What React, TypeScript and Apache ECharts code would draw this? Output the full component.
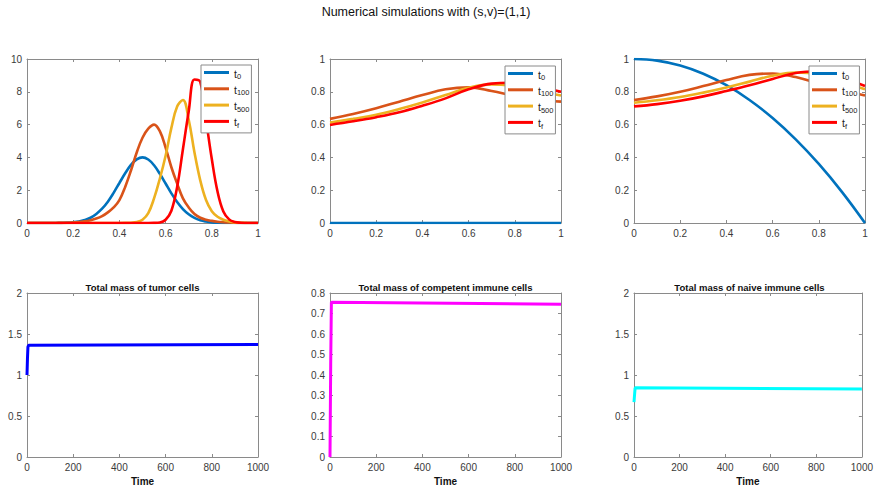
import React, { useEffect, useRef } from "react";
import * as echarts from "echarts";

// ---------- data ----------
const X1 = [0, 0.025, 0.05, 0.075, 0.1, 0.125, 0.15, 0.175, 0.2, 0.225, 0.25, 0.275, 0.3, 0.325, 0.35, 0.375, 0.4, 0.425, 0.45, 0.475, 0.5, 0.525, 0.55, 0.575, 0.6, 0.625, 0.65, 0.675, 0.7, 0.725, 0.75, 0.775, 0.8, 0.825, 0.85, 0.875, 0.9, 0.925, 0.95, 0.975, 1];

const P1_T0 = [0, 0, 0, 0, 0, 0.004, 0.01, 0.02, 0.045, 0.09, 0.18, 0.32, 0.55, 0.87, 1.3, 1.84, 2.44, 3.03, 3.54, 3.88, 4.0, 3.87, 3.52, 3.0, 2.41, 1.81, 1.28, 0.85, 0.53, 0.31, 0.17, 0.09, 0.04, 0.02, 0.008, 0.003, 0.001, 0, 0, 0, 0];
const P1_T100 = [0, 0, 0, 0, 0, 0.002, 0.008, 0.015, 0.03, 0.06, 0.1, 0.17, 0.27, 0.42, 0.65, 0.95, 1.4, 2.2, 3.2, 4.3, 5.2, 5.75, 6.0, 5.6, 4.6, 3.4, 2.4, 1.5, 0.95, 0.55, 0.32, 0.2, 0.13, 0.08, 0.05, 0.03, 0.015, 0.005, 0, 0, 0];
const P1_T500 = [0, 0, 0, 0, 0, 0, 0, 0, 0, 0, 0, 0, 0, 0, 0, 0, 0, 0.005, 0.02, 0.06, 0.2, 0.6, 1.5, 2.7, 4.1, 5.8, 7.1, 7.5, 6.3, 4.3, 2.6, 1.4, 0.72, 0.38, 0.2, 0.1, 0.04, 0.015, 0.005, 0, 0];
const P1_TF = [0, 0, 0, 0, 0, 0, 0, 0, 0, 0, 0, 0, 0, 0, 0, 0, 0, 0, 0, 0, 0, 0, 0.005, 0.03, 0.2, 0.75, 2.2, 4.5, 6.8, 8.75, 8.6, 6.3, 3.9, 1.9, 0.7, 0.22, 0.06, 0.015, 0.003, 0, 0];

const X2 = [0, 0.1, 0.2, 0.3, 0.4, 0.5, 0.6, 0.7, 0.8, 0.9, 1];
const P2_T0 = [0, 0, 0, 0, 0, 0, 0, 0, 0, 0, 0];
const P2_T100 = [0.635, 0.665, 0.7, 0.74, 0.78, 0.815, 0.827, 0.805, 0.775, 0.752, 0.74];
const P2_T500 = [0.612, 0.635, 0.66, 0.695, 0.735, 0.78, 0.825, 0.845, 0.835, 0.805, 0.778];
const P2_TF = [0.598, 0.62, 0.645, 0.675, 0.715, 0.76, 0.815, 0.85, 0.855, 0.83, 0.8];

const P3_T0 = [1, 0.99, 0.96, 0.91, 0.84, 0.75, 0.64, 0.51, 0.36, 0.19, 0];
const P3_T100 = [0.75, 0.772, 0.8, 0.835, 0.872, 0.903, 0.912, 0.89, 0.85, 0.81, 0.778];
const P3_T500 = [0.733, 0.748, 0.768, 0.795, 0.826, 0.862, 0.898, 0.918, 0.905, 0.86, 0.815];
const P3_TF = [0.711, 0.725, 0.745, 0.772, 0.805, 0.84, 0.878, 0.915, 0.925, 0.885, 0.835];

const TUMOR_T = [0, 2, 4, 7, 1000];
const TUMOR_M = [1.0, 1.2, 1.34, 1.364, 1.372];
const COMP_T = [0, 3, 6, 1000];
const COMP_M = [0, 0.45, 0.755, 0.745];
const NAIVE_T = [0, 3, 5, 1000];
const NAIVE_M = [0.67, 0.78, 0.843, 0.83];

const LEGEND_NAMES = ["t0", "t100", "t500", "tf"];
const MAIN_TITLE = "Numerical simulations with (s,v)=(1,1)";
const PANEL_TITLES = ["Total mass of tumor cells", "Total mass of competent immune cells", "Total mass of naive immune cells"];
const TIME_LABEL = "Time";

// ---------- style ----------
const FONT = "'Liberation Sans', Arial, Helvetica, sans-serif";
const AX = "#8a8a8a";
const LBL = "#3a3a3a";
const COLORS = ["#0072BD", "#D95319", "#EDB120", "#FF0000"];

const GRIDS = [
  { left: 27, top: 59 },
  { left: 330, top: 59 },
  { left: 634, top: 59 },
  { left: 27, top: 293 },
  { left: 330, top: 293 },
  { left: 634, top: 293 },
];
const GW = 231;
const GH = 164;

const AXES = [
  { x: [0, 1, 0.2], y: [0, 10, 2] },
  { x: [0, 1, 0.2], y: [0, 1, 0.2] },
  { x: [0, 1, 0.2], y: [0, 1, 0.2] },
  { x: [0, 1000, 200], y: [0, 2, 0.5], name: TIME_LABEL },
  { x: [0, 1000, 200], y: [0, 0.8, 0.1], name: TIME_LABEL },
  { x: [0, 1000, 200], y: [0, 2, 0.5], name: TIME_LABEL },
];

function pairs(xs: number[], ys: number[]) {
  return xs.map((x, i) => [x, ys[i]]);
}

function buildOption() {
  const grid = GRIDS.map((g) => ({ left: g.left, top: g.top, width: GW, height: GH, show: false }));
  const xAxis: any[] = [];
  const yAxis: any[] = [];
  AXES.forEach((a, gi) => {
    const lineStyle = { color: AX, width: 1 };
    const base = (labels: boolean) => ({
      type: "value",
      gridIndex: gi,
      axisLine: { show: true, onZero: false, lineStyle },
      axisTick: { show: true, inside: true, length: 3, lineStyle },
      splitLine: { show: false },
      axisLabel: labels
        ? {
            show: true,
            color: LBL,
            fontSize: 10,
            fontFamily: FONT,
            margin: 5,
            formatter: (v: number) => String(Math.round(v * 1000) / 1000),
          }
        : { show: false },
    });
    xAxis.push({
      ...base(true),
      position: "bottom",
      min: a.x[0],
      max: a.x[1],
      interval: a.x[2],
      name: a.name || "",
      nameLocation: "middle",
      nameGap: 19,
      nameTextStyle: { fontWeight: "bold", fontSize: 10, color: "#111", fontFamily: FONT },
    });
    xAxis.push({ ...base(false), position: "top", min: a.x[0], max: a.x[1], interval: a.x[2] });
    yAxis.push({ ...base(true), position: "left", min: a.y[0], max: a.y[1], interval: a.y[2] });
    yAxis.push({ ...base(false), position: "right", min: a.y[0], max: a.y[1], interval: a.y[2] });
  });

  const series: any[] = [];
  const topData = [
    { xs: X1, sets: [P1_T0, P1_T100, P1_T500, P1_TF] },
    { xs: X2, sets: [P2_T0, P2_T100, P2_T500, P2_TF] },
    { xs: X2, sets: [P3_T0, P3_T100, P3_T500, P3_TF] },
  ];
  topData.forEach((p, gi) => {
    p.sets.forEach((ys, si) => {
      series.push({
        type: "line",
        name: LEGEND_NAMES[si],
        xAxisIndex: gi * 2,
        yAxisIndex: gi * 2,
        data: pairs(p.xs, ys),
        smooth: 0.4,
        showSymbol: false,
        symbol: "none",
        color: COLORS[si],
        lineStyle: { width: 2.6, color: COLORS[si] },
        z: 2 + si,
      });
    });
  });
  const bottom = [
    { t: TUMOR_T, m: TUMOR_M, c: "#0000FF" },
    { t: COMP_T, m: COMP_M, c: "#FF00FF" },
    { t: NAIVE_T, m: NAIVE_M, c: "#00FFFF" },
  ];
  bottom.forEach((b, i) => {
    const gi = 3 + i;
    series.push({
      type: "line",
      name: PANEL_TITLES[i],
      xAxisIndex: gi * 2,
      yAxisIndex: gi * 2,
      data: pairs(b.t, b.m),
      showSymbol: false,
      symbol: "none",
      color: b.c,
      lineStyle: { width: 3, color: b.c },
    });
  });

  const title: any[] = [
    {
      text: MAIN_TITLE,
      left: 426,
      top: 5,
      textAlign: "center",
      padding: 0,
      textStyle: { fontSize: 12.5, fontWeight: "normal", color: "#111", fontFamily: FONT },
    },
  ];
  PANEL_TITLES.forEach((t, i) => {
    const g = GRIDS[3 + i];
    title.push({
      text: t,
      left: g.left + GW / 2,
      top: 282,
      textAlign: "center",
      padding: 0,
      textStyle: { fontSize: 9.5, fontWeight: "bold", color: "#111", fontFamily: FONT },
    });
  });

  const legendPos = [
    { left: 201, top: 65 },
    { left: 505, top: 66 },
    { left: 809, top: 66 },
  ];
  const legend = legendPos.map((p) => ({
    left: p.left,
    top: p.top,
    orient: "vertical",
    data: LEGEND_NAMES,
    icon: "rect",
    itemWidth: 25,
    itemHeight: 3,
    itemGap: 2.3,
    padding: [3, 2, 2, 3],
    backgroundColor: "#ffffff",
    borderColor: "#8a8a8a",
    borderWidth: 1,
    selectedMode: false,
    formatter: (name: string) => `{t|t}{s|${name.slice(1)}}`,
    textStyle: {
      color: "#222",
      fontFamily: FONT,
      rich: {
        t: { fontSize: 10.5, lineHeight: 9, verticalAlign: "top", fontFamily: FONT, color: "#222" },
        s: { fontSize: 7.5, lineHeight: 7, padding: [4.5, 0, 1.5, 0], verticalAlign: "top", fontFamily: FONT, color: "#222" },
      },
    },
    z: 10,
  }));

  return {
    animation: false,
    backgroundColor: "#ffffff",
    title,
    legend,
    grid,
    xAxis,
    yAxis,
    series,
  };
}

export default function App() {
  const ref = useRef<HTMLDivElement>(null);
  useEffect(() => {
    if (!ref.current) return;
    const chart = echarts.init(ref.current, null, { renderer: "svg" });
    chart.setOption(buildOption() as any);
    return () => chart.dispose();
  }, []);
  return (
    <div
      ref={ref}
      style={{ position: "absolute", left: 0, top: 0, width: 876, height: 489, background: "#fff" }}
    />
  );
}
